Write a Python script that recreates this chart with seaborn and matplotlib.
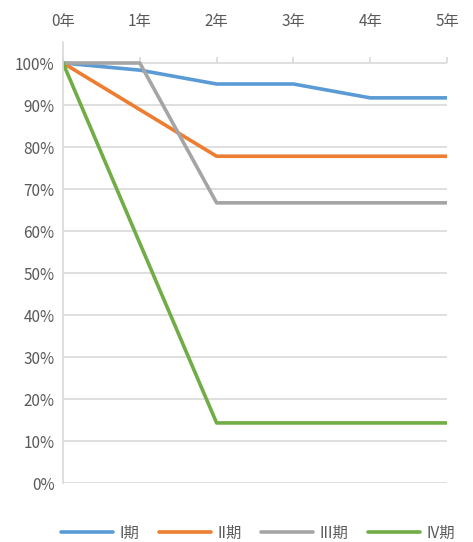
import matplotlib
matplotlib.use("Agg")
import matplotlib.pyplot as plt
import seaborn as sns
import pandas as pd

years = [0, 1, 2, 3, 4, 5]
year_labels = ["0年", "1年", "2年", "3年", "4年", "5年"]
stage_I = [1.000, 0.983, 0.950, 0.950, 0.917, 0.917]
stage_II = [1.000, 0.889, 0.778, 0.778, 0.778, 0.778]
stage_III = [1.000, 1.000, 0.667, 0.667, 0.667, 0.667]
stage_IV = [1.000, 0.571, 0.143, 0.143, 0.143, 0.143]
series_names = ["I期", "II期", "III期", "IV期"]
colors = ["#5B9BD5", "#ED7D31", "#A5A5A5", "#70AD47"]

rows = []
for name, vals in zip(series_names, [stage_I, stage_II, stage_III, stage_IV]):
    for x, v in zip(years, vals):
        rows.append({"year": x, "value": v, "stage": name})
df = pd.DataFrame(rows)

sns.set_theme(style="white")
plt.rcParams["font.family"] = ["Noto Sans CJK JP", "DejaVu Sans"]

fig = plt.figure(figsize=(4.73, 5.42), dpi=100)
ax = fig.add_axes([63/473, 1-483/542, (447-63)/473, (483-42)/542])

sns.lineplot(data=df, x="year", y="value", hue="stage", hue_order=series_names,
             palette=colors, linewidth=2.6, ax=ax, legend=True)

ax.set_xlim(0, 5)
ax.set_ylim(0, 1.05)
ax.set_yticks([i/10 for i in range(11)])
ax.set_yticklabels([f"{i*10}%" for i in range(11)])
ax.set_xticks(years)
ax.set_xticklabels(year_labels)
ax.xaxis.tick_top()
ax.set_xlabel("")
ax.set_ylabel("")

for y in [i/10 for i in range(11)]:
    ax.axhline(y, color="#D9D9D9", lw=1.2, zorder=0)

for s in ["right", "bottom"]:
    ax.spines[s].set_visible(False)
ax.spines["left"].set_color("#D9D9D9")
ax.spines["left"].set_linewidth(1.2)
ax.spines["top"].set_position(("data", 1.0))
ax.spines["top"].set_visible(False)

ax.tick_params(axis="y", which="major", direction="out", length=4, width=1.2,
               color="#D9D9D9", labelsize=11, labelcolor="#595959", pad=2)
ax.tick_params(axis="x", which="major", direction="out", length=4, width=1.2,
               color="#D9D9D9", labelsize=11, labelcolor="#595959", pad=20,
               top=True, bottom=False, labeltop=True, labelbottom=False)

handles, labels = ax.get_legend_handles_labels()
ax.legend(handles, labels, loc="center", bbox_to_anchor=(258/473, (542-533)/542),
          bbox_transform=fig.transFigure, ncol=4, frameon=False,
          handlelength=3.4, columnspacing=1.3, handletextpad=0.4,
          fontsize=11, labelcolor="#595959")

fig.savefig("out.png", dpi=100)
